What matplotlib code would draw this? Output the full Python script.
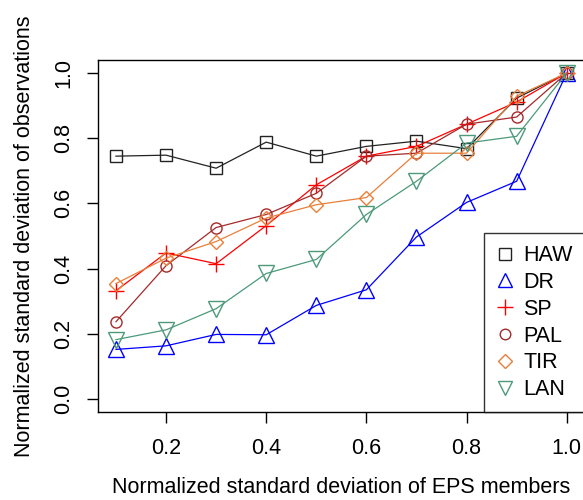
import matplotlib
matplotlib.use("Agg")
import matplotlib.pyplot as plt
from matplotlib.lines import Line2D

plt.rcParams['font.family'] = ['Liberation Sans', 'DejaVu Sans']

x = [0.1, 0.2, 0.3, 0.4, 0.5, 0.6, 0.7, 0.8, 0.9, 1.0]
haw = [0.745, 0.748, 0.708, 0.788, 0.745, 0.775, 0.791, 0.768, 0.923, 1.0]
dr  = [0.152, 0.163, 0.198, 0.197, 0.287, 0.335, 0.497, 0.603, 0.668, 1.0]
sp  = [0.332, 0.448, 0.415, 0.532, 0.657, 0.745, 0.775, 0.843, 0.911, 1.0]
pal = [0.237, 0.409, 0.526, 0.566, 0.631, 0.745, 0.754, 0.843, 0.865, 1.0]
tir = [0.354, 0.432, 0.483, 0.555, 0.596, 0.618, 0.754, 0.754, 0.929, 1.0]
lan = [0.182, 0.212, 0.277, 0.385, 0.428, 0.566, 0.668, 0.785, 0.806, 1.0]

names = ["HAW", "DR", "SP", "PAL", "TIR", "LAN"]
series = [haw, dr, sp, pal, tir, lan]
colors = ["#222222", "#0000FF", "#FF0000", "#A52A2A", "#E8803A", "#4C9A7A"]
markers = ["s", "^", "+", "o", "D", "v"]
msizes = [9, 11, 12, 8, 7, 11]

FS = 15.5

fig = plt.figure(figsize=(5.83, 5.0), dpi=100)
ax = fig.add_axes([0.168, 0.176, 0.835, 0.704])

for ys, c, m, ms in zip(series, colors, markers, msizes):
    ax.plot(x, ys, color=c, lw=0.9, marker=m, ms=ms,
            mfc="none", mec=c, mew=1.0)

ax.set_xlim(0.064, 1.036)
ax.set_ylim(-0.04, 1.04)
ax.set_xticks([0.2, 0.4, 0.6, 0.8, 1.0])
ax.set_xticklabels(["0.2", "0.4", "0.6", "0.8", "1.0"])
ax.set_yticks([0.0, 0.2, 0.4, 0.6, 0.8, 1.0])
ax.set_yticklabels(["0.0", "0.2", "0.4", "0.6", "0.8", "1.0"], rotation=90, va="center")
ax.tick_params(axis="both", labelsize=FS, length=8, width=1, direction="out")
ax.tick_params(axis="x", pad=11)
ax.tick_params(axis="y", pad=9)
for s in ax.spines.values():
    s.set_linewidth(1.0)

ax.set_xlabel("Normalized standard deviation of EPS members", fontsize=FS, labelpad=13)
ax.set_ylabel("Normalized standard deviation of observations", fontsize=FS, labelpad=13)

handles = [Line2D([], [], ls="none", marker=m, ms=ms * 0.95,
                  mfc="none", mec=c, mew=1.0) for c, m, ms in zip(colors, markers, msizes)]
leg = ax.legend(handles, names, loc="lower right", fontsize=FS, frameon=True,
                fancybox=False, edgecolor="black", borderaxespad=0.0,
                handlelength=0.9, handletextpad=0.4, labelspacing=0.27,
                borderpad=0.55)
leg.get_frame().set_linewidth(1.0)

fig.savefig("out.png", dpi=100)
